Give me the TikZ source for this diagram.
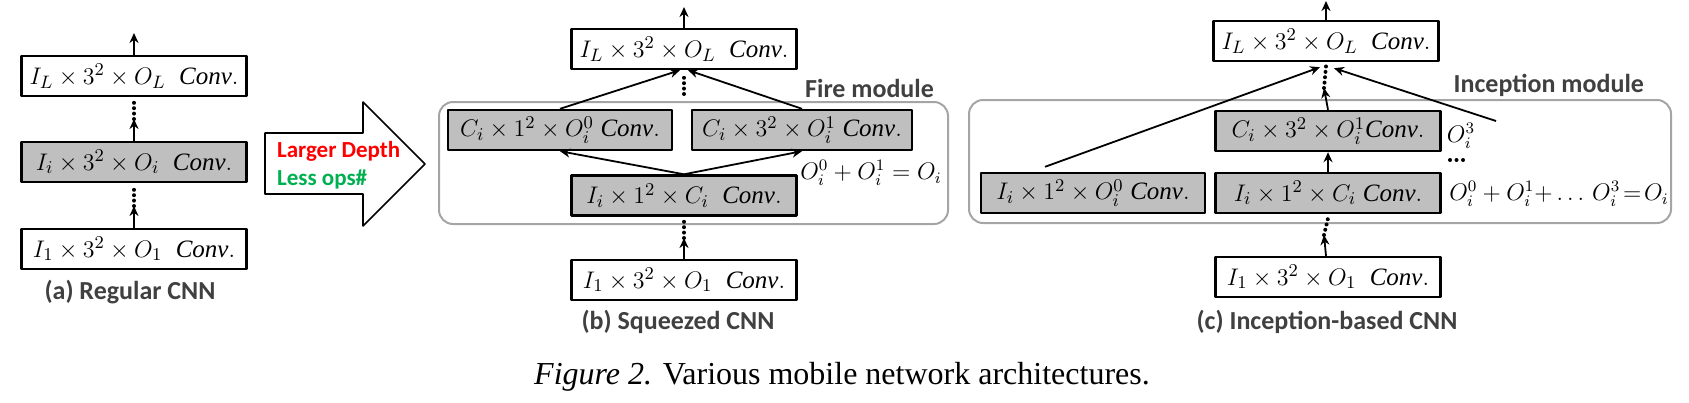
\documentclass[tikz,border=0pt]{standalone}
\usepackage{fontspec}
\setmainfont{Liberation Serif}
\newfontfamily\calfont{Carlito}
\usetikzlibrary{arrows.meta}
\definecolor{boxgray}{RGB}{191,191,191}
\definecolor{modgray}{RGB}{165,165,165}
\definecolor{txtgray}{RGB}{64,64,64}
\definecolor{depthred}{RGB}{255,0,0}
\definecolor{opsgreen}{RGB}{0,176,80}
\newcommand{\cv}{\mathit{Conv.}}
\begin{document}
\begin{tikzpicture}[x=0.5pt, y=-0.5pt, line join=round, >={Stealth[length=5pt,width=4.5pt]},
	conv/.style={draw, line width=1.2pt, minimum width=112.5pt, minimum height=20pt, inner sep=0pt, font=\fontsize{12.5}{14}\selectfont},
	convg/.style={conv, fill=boxgray},
	module/.style={draw=modgray, line width=1pt, rounded corners=7pt},
	flow/.style={->, line width=0.9pt},
	dots/.style={line width=2pt, line cap=round, dash pattern=on 0pt off 2.7pt},
	sub/.style={font=\calfont\bfseries\fontsize{13}{15}\selectfont, text=txtgray},
	eq/.style={inner sep=0pt, font=\fontsize{12}{14}\selectfont}]
	\useasboundingbox (0,0) rectangle (1689,402);
	% (a) regular
	\node[conv]  (aTop) at (134,76)  {$I_L\times 3^2\times O_L\;\;\cv$};
	\node[convg] (aMid) at (134,162) {$I_i\times 3^2\times O_i\;\;\cv$};
	\node[conv]  (aBot) at (134,249) {$I_1\times 3^2\times O_1\;\;\cv$};
	\path (134,33) coordinate (aOut) (134,119) coordinate (aUp) (134,206) coordinate (aLow);
	\draw[flow] (aTop) -- (aOut);
	\draw[flow] (aMid) -- (aUp);
	\draw[dots] (aUp) -- ([yshift=-2pt]aTop.south);
	\draw[flow] (aBot) -- (aLow);
	\draw[dots] (aLow) -- ([yshift=-2pt]aMid.south);
	\node[sub] (aLab) at (130,292) {(a) Regular CNN};
	% big arrow
	\draw[line width=0.8pt] (265,133) -- (363,133) -- (363,102) -- (425,164) -- (363,226) -- (363,194) -- (265,194) -- cycle;
	\node[sub, anchor=west, text=depthred, font=\calfont\bfseries\fontsize{11.5}{13}\selectfont] (depth) at (270,151) {Larger Depth};
	\node[sub, anchor=west, text=opsgreen, font=\calfont\bfseries\fontsize{11.5}{13}\selectfont] (ops) at (270,179) {Less ops\#};
	% (b) squeezed
	\draw[module] (439,102) rectangle (948,224);
	\node[sub, anchor=east] (fire) at (941,88) {Fire module};
	\node[conv]  (bTop) at (684,49)  {$I_L\times 3^2\times O_L\;\;\cv$};
	\node[convg, minimum width=112pt] (bL) at (560,130) {$C_i\times 1^2\times O_i^0\;\cv$};
	\node[convg, minimum width=110pt] (bR) at (802,130) {$C_i\times 3^2\times O_i^1\;\cv$};
	\node[convg] (bSq)  at (684,195.5) {$I_i\times 1^2\times C_i\;\;\cv$};
	\node[conv]  (bBot) at (684,280) {$I_1\times 3^2\times O_1\;\;\cv$};
	\node[eq] (bSum) at (871,173) {$O_i^0+O_i^1=O_i$};
	\path (684,7) coordinate (bOut) (684,94) coordinate (bDot) (684,238) coordinate (bLow);
	\draw[flow] (bTop) -- (bOut);
	\draw[flow] (bSq.north) -- (bL.south);
	\draw[flow] (bSq.north) -- (bR.south);
	\draw[flow] (bL.north) -- ([xshift=-2pt]bTop.south);
	\draw[flow] (bR.north) -- ([xshift=2pt]bTop.south);
	\draw[dots] (bDot) -- ([yshift=-3pt]bTop.south);
	\draw[flow] (bBot) -- (bLow);
	\draw[dots] (bLow) -- ([yshift=-2pt]bSq.south);
	\node[sub] (bLab) at (678,322) {(b) Squeezed CNN};
	% (c) inception
	\draw[module] (969,100) rectangle (1671,223);
	\node[sub, anchor=east] (incep) at (1651,85) {Inception module};
	\node[conv]  (cTop) at (1326,41)  {$I_L\times 3^2\times O_L\;\;\cv$};
	\node[convg] (cMid) at (1328,131) {$C_i\times 3^2\times O_i^1\cv$};
	\node[convg, minimum width=112pt] (cL) at (1093,193) {$I_i\times 1^2\times O_i^0\;\cv$};
	\node[convg] (cSq)  at (1328,193) {$I_i\times 1^2\times C_i\;\cv$};
	\node[conv]  (cBot) at (1328,277) {$I_1\times 3^2\times O_1\;\;\cv$};
	\node[eq] (c3) at (1461,136) {$O_i^3$};
	\node[eq, font=\fontsize{11.5}{13}\selectfont] (cSum) at (1559,194) {$O_i^0+O_i^1{+}\mathinner{\ldotp\ldotp\ldotp}\,O_i^3\!=\!O_i$};
	\path (1326,1) coordinate (cOut) (1324,88) coordinate (cUp) (1324,235) coordinate (cLow)
		(1496,121) coordinate (cIn) (1450,160) coordinate (cD1) (1463,160) coordinate (cD2);
	\draw[flow] (cTop) -- (cOut);
	\draw[flow] (cSq) -- (cMid);
	\draw[flow] (cMid.north) -- (cUp);
	\draw[dots] (cUp) -- ([yshift=-2pt]cTop.south);
	\draw[flow] ([xshift=-24pt,yshift=2.5pt]cL.north) -- ([xshift=-3pt,yshift=-2.5pt]cTop.south);
	\draw[flow] (cIn) -- ([xshift=4pt,yshift=-3pt]cTop.south);
	\draw[dots, dash pattern=on 0pt off 3.25pt] (cD1) -- (cD2);
	\draw[flow] (cBot) -- (cLow);
	\draw[dots] (cLow) -- ([yshift=-2pt]cSq.south);
	\node[sub] (cLab) at (1327,322) {(c) Inception-based CNN};
	% caption
	\node[font=\fontsize{16}{18}\selectfont] (cap) at (842,377) {\textit{Figure 2.} Various mobile network architectures.};
\end{tikzpicture}
\end{document}
